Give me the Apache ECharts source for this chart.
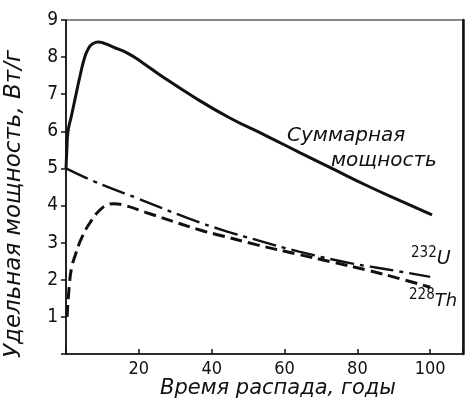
<!DOCTYPE html>
<html>
<head>
<meta charset="utf-8">
<script src="https://cdn.jsdelivr.net/npm/echarts@6/dist/echarts.min.js"></script>
<style>
  html, body { margin: 0; padding: 0; background: #fff; }
  #chart { width: 469px; height: 409px; }
</style>
</head>
<body>
<div id="chart"></div>
<script>
// Decay time, years, and specific power, W/g
const yearsTotal = [0, 0.25, 0.5, 1.5, 2.5, 3.8, 5, 6.2, 7.5, 8.8, 10.5, 13, 17, 21, 25.8, 35, 45, 55, 64.3, 73, 83, 92, 100.5];
const powerTotal = [5.0, 5.55, 5.96, 6.42, 6.88, 7.47, 7.95, 8.24, 8.37, 8.41, 8.37, 8.27, 8.1, 7.85, 7.52, 6.93, 6.36, 5.88, 5.42, 5.0, 4.52, 4.12, 3.75];

const yearsU = [0, 8, 20, 34, 43, 52, 64, 78, 90, 100];
const powerU = [5.0, 4.64, 4.18, 3.64, 3.34, 3.08, 2.76, 2.45, 2.25, 2.08];

const yearsTh = [0.3, 1, 1.6, 2.5, 4.4, 7, 9.3, 11, 13, 15.5, 23, 36.8, 43, 52.5, 64, 73, 82.7, 92, 100];
const powerTh = [1.0, 1.95, 2.35, 2.65, 3.15, 3.6, 3.88, 4.0, 4.05, 4.02, 3.78, 3.34, 3.18, 2.94, 2.68, 2.48, 2.26, 2.02, 1.8];

const xTicks = [20, 40, 60, 80, 100];
const yTicks = [1, 2, 3, 4, 5, 6, 7, 8, 9];

const pairs = (xs, ys) => xs.map((x, i) => [x, ys[i]]);

const INK = '#111';
const digitFont = '"DejaVu Sans Condensed", "Liberation Sans Narrow", sans-serif';
const handFont = '"DejaVu Sans", sans-serif';

const chart = echarts.init(document.getElementById('chart'), null, { renderer: 'canvas' });

chart.setOption({
  backgroundColor: '#fff',
  animation: false,
  grid: {
    left: 66, top: 20, width: 397, height: 334,
    show: true, borderColor: INK, borderWidth: 1.2, backgroundColor: 'transparent'
  },
  xAxis: {
    type: 'value', min: 0, max: 109, interval: 20,
    axisLine: { lineStyle: { color: INK, width: 1.6 } },
    axisTick: { inside: true, length: 5, lineStyle: { color: INK, width: 1.5 } },
    splitLine: { show: false },
    axisLabel: {
      color: INK, fontFamily: digitFont, fontSize: 18, margin: 6,
      formatter: v => (xTicks.includes(v) ? String(v) : '')
    }
  },
  yAxis: [
    {
      type: 'value', min: 0, max: 9, interval: 1,
      axisLine: { show: true, lineStyle: { color: INK, width: 1.6 } },
      axisTick: { show: true, inside: false, length: 5, lineStyle: { color: INK, width: 1.5 } },
      splitLine: { show: false },
      axisLabel: {
        color: INK, fontFamily: digitFont, fontSize: 19, margin: 8,
        formatter: v => (yTicks.includes(v) ? String(v) : '')
      }
    },
    {
      type: 'value', min: 0, max: 9, position: 'right',
      axisLine: { show: true, lineStyle: { color: INK, width: 2.5 } },
      axisTick: { show: false }, axisLabel: { show: false }, splitLine: { show: false }
    }
  ],
  series: [
    {
      name: 'Суммарная мощность', type: 'line', data: pairs(yearsTotal, powerTotal),
      showSymbol: false, smooth: 0.5,
      lineStyle: { color: INK, width: 3 }
    },
    {
      name: '232U', type: 'line', data: pairs(yearsU, powerU),
      showSymbol: false, smooth: 0.5,
      lineStyle: { color: INK, width: 2.4, type: [24, 6, 4, 6] }
    },
    {
      name: '228Th', type: 'line', data: pairs(yearsTh, powerTh),
      showSymbol: false, smooth: 0.5,
      lineStyle: { color: INK, width: 3, type: [12, 6] }
    }
  ],
  graphic: [
    {
      type: 'text', x: 14, y: 204, rotation: Math.PI / 2,
      style: {
        text: 'Удельная мощность, Вт/г', fill: INK,
        font: 'italic 23px ' + handFont, align: 'center', verticalAlign: 'middle'
      }
    },
    {
      type: 'text', x: 278, y: 389,
      style: {
        text: 'Время распада, годы', fill: INK,
        font: 'italic 21px ' + handFont, align: 'center', verticalAlign: 'middle'
      }
    },
    {
      type: 'text', x: 287, y: 136,
      style: { text: 'Суммарная', fill: INK, font: 'italic 20px ' + handFont, verticalAlign: 'middle' }
    },
    {
      type: 'text', x: 331, y: 161,
      style: { text: 'мощность', fill: INK, font: 'italic 20px ' + handFont, verticalAlign: 'middle' }
    },
    {
      type: 'text', x: 411, y: 273,
      style: {
        text: '{s|232}{m|U}', fill: INK, verticalAlign: 'bottom',
        rich: {
          s: { fontFamily: digitFont, fontSize: 15, verticalAlign: 'top', padding: [0, 0, 12, 0], fill: INK },
          m: { fontFamily: handFont, fontSize: 19, fontStyle: 'italic', fill: INK }
        }
      }
    },
    {
      type: 'text', x: 409, y: 315,
      style: {
        text: '{s|228}{m|Th}', fill: INK, verticalAlign: 'bottom',
        rich: {
          s: { fontFamily: digitFont, fontSize: 15, verticalAlign: 'top', padding: [0, 0, 12, 0], fill: INK },
          m: { fontFamily: handFont, fontSize: 18, fontStyle: 'italic', fill: INK }
        }
      }
    }
  ]
});
</script>
</body>
</html>
